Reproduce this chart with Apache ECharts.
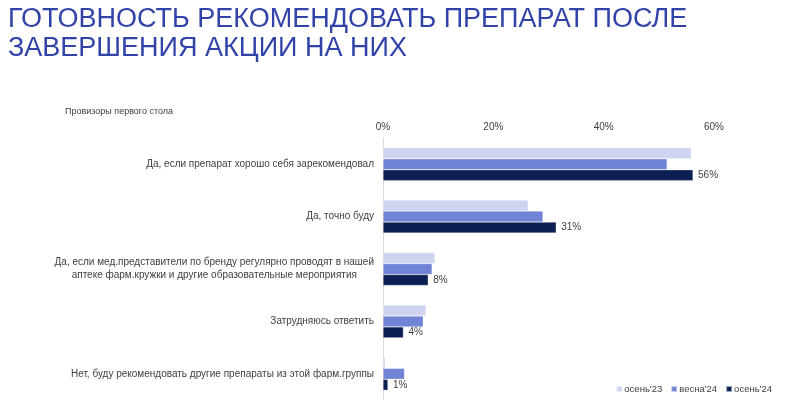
<!DOCTYPE html>
<html>
<head>
<meta charset="utf-8">
<script src="https://cdn.jsdelivr.net/npm/echarts@6/dist/echarts.min.js"></script>
<style>
  html, body { margin: 0; padding: 0; background: #fff; }
  #chart { width: 800px; height: 400px; }
</style>
</head>
<body>
<div id="chart"></div>
<script>
var categories = [
  'Да, если препарат хорошо себя зарекомендовал',
  'Да, точно буду',
  'Да, если мед.представители по бренду регулярно проводят в нашей\nаптеке фарм.кружки и другие образовательные мероприятия',
  'Затрудняюсь ответить',
  'Нет, буду рекомендовать другие препараты из этой фарм.группы'
];
var seriesNames = ["осень'23", "весна'24", "осень'24"];
var autumn23 = [55.9, 26.3, 9.4, 7.8, 0.4];
var spring24 = [51.5, 29.0, 8.9, 7.3, 3.9];
var autumn24 = [56.2, 31.4, 8.2, 3.7, 0.9];
var xTicks = [0, 20, 40, 60];

var colors = ['#CDD3F0', '#7083D4', '#0B1F52'];
var font = 'Arial, "Liberation Sans", sans-serif';

var chart = echarts.init(document.getElementById('chart'));

var option = {
  animation: false,
  color: colors,
  title: [
    {
      text: 'ГОТОВНОСТЬ РЕКОМЕНДОВАТЬ ПРЕПАРАТ ПОСЛЕ\nЗАВЕРШЕНИЯ АКЦИИ НА НИХ',
      left: 3,
      top: 0,
      textStyle: {
        fontFamily: font,
        fontWeight: 'normal',
        fontSize: 27,
        lineHeight: 29,
        color: '#3142A8'
      }
    },
    {
      text: 'Провизоры первого стола',
      left: 60,
      top: 102,
      textStyle: {
        fontFamily: font,
        fontWeight: 'normal',
        fontSize: 9,
        color: '#404040'
      }
    }
  ],
  legend: {
    right: 23,
    bottom: 1,
    icon: 'rect',
    itemWidth: 6,
    itemHeight: 6,
    itemGap: 8,
    data: seriesNames,
    textStyle: { fontFamily: font, fontSize: 9.5, color: '#404040', padding: [0, 0, 0, -3] }
  },
  grid: {
    left: 383,
    right: 86,
    top: 138,
    bottom: 0
  },
  xAxis: {
    type: 'value',
    position: 'top',
    min: 0,
    max: 60,
    interval: 20,
    axisLine: { show: false },
    axisTick: { show: false },
    splitLine: { show: false },
    axisLabel: {
      margin: 6,
      fontFamily: font,
      fontSize: 10,
      color: '#404040',
      formatter: function (v) {
        return xTicks.indexOf(v) >= 0 ? v + '%' : '';
      }
    }
  },
  yAxis: {
    type: 'category',
    inverse: true,
    data: categories,
    axisLine: { show: true, lineStyle: { color: '#D9D9D9', width: 1 } },
    axisTick: { show: false },
    axisLabel: {
      margin: 9,
      fontFamily: font,
      fontSize: 10,
      color: '#404040',
      lineHeight: 13,
      formatter: function (v) {
        return v.split('\n').map(function (s) { return '{c|' + s + '}'; }).join('\n');
      },
      rich: {
        c: { align: 'center', fontFamily: font, fontSize: 10, color: '#404040', lineHeight: 13 }
      }
    }
  },
  series: [
    {
      name: seriesNames[0],
      type: 'bar',
      data: autumn23,
      barWidth: 11,
      barGap: '0%',
      itemStyle: { borderColor: 'rgba(255,255,255,0.6)', borderWidth: 0.5 }
    },
    {
      name: seriesNames[1],
      type: 'bar',
      data: spring24,
      barWidth: 11,
      barGap: '0%',
      itemStyle: { borderColor: 'rgba(255,255,255,0.6)', borderWidth: 0.5 }
    },
    {
      name: seriesNames[2],
      type: 'bar',
      data: autumn24,
      barWidth: 11,
      barGap: '0%',
      itemStyle: { borderColor: 'rgba(255,255,255,0.6)', borderWidth: 0.5 },
      label: {
        show: true,
        position: 'right',
        distance: 5,
        fontFamily: font,
        fontSize: 10,
        color: '#404040',
        formatter: function (p) { return Math.round(p.value) + '%'; }
      }
    }
  ]
};

chart.setOption(option);
</script>
</body>
</html>
